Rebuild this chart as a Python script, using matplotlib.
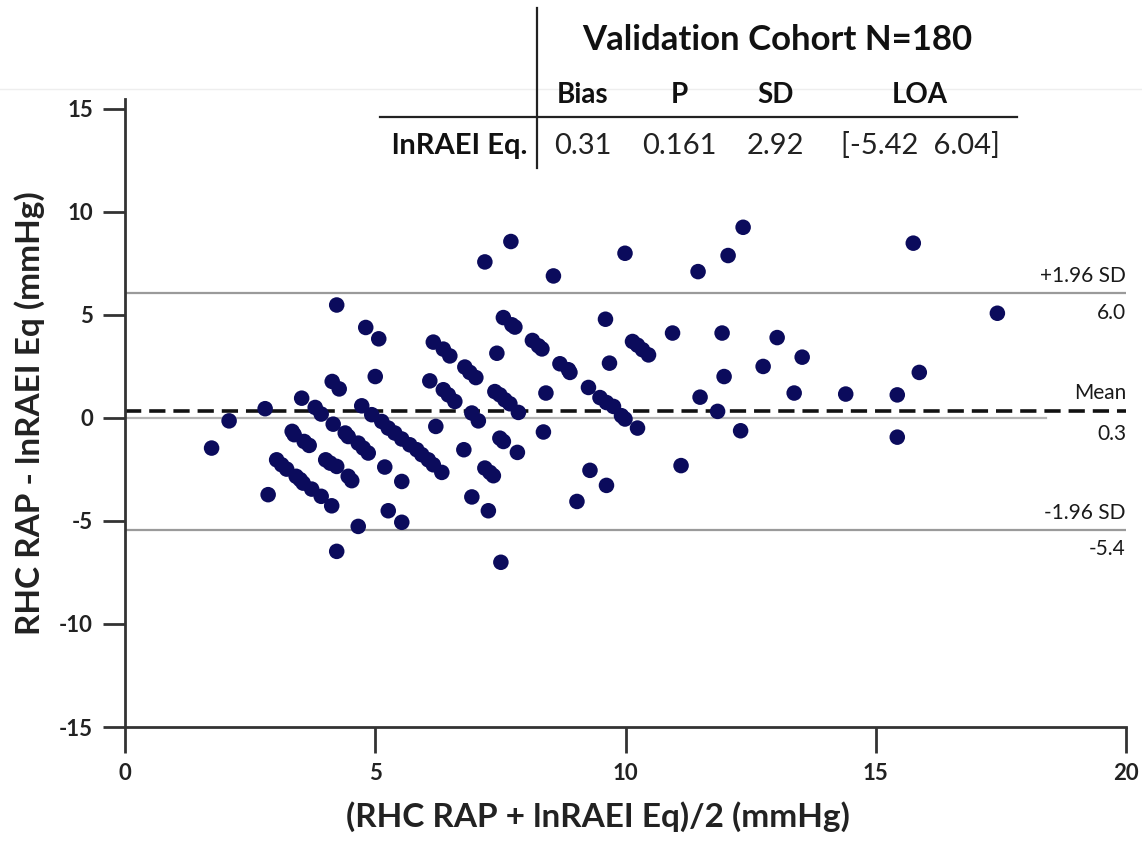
import numpy as np
import matplotlib.pyplot as plt
from matplotlib.lines import Line2D

plt.rcParams['font.family'] = ['Lato', 'DejaVu Sans']
plt.rcParams['axes.unicode_minus'] = False

# Bland-Altman values: mean of the two methods (x) and their difference (y)
avg_rap = [1.73, 2.08, 2.80, 2.86, 3.53, 3.80, 3.92, 4.14, 4.28, 4.23,
           3.34, 3.38, 3.58, 3.68, 4.16, 3.03, 3.13, 3.23, 3.42, 3.50,
           3.56, 3.73, 3.92, 4.13, 4.01, 4.10, 4.23, 4.23, 4.81, 5.07,
           5.00, 6.16, 6.36, 6.49, 6.09, 6.36, 6.46, 6.59, 6.79, 6.89,
           7.01, 7.43, 7.56, 7.73, 7.79, 7.39, 7.49, 7.59, 7.69, 7.86,
           6.93, 7.06, 6.21, 4.73, 4.93, 5.13, 5.26, 5.39, 5.53, 5.69,
           5.83, 5.93, 6.06, 6.16, 6.33, 4.40, 4.46, 4.66, 4.76, 4.86,
           4.46, 4.53, 5.19, 5.53, 4.66, 5.26, 5.53, 6.77, 7.19, 7.29,
           7.36, 6.93, 7.26, 7.49, 7.56, 7.51, 7.71, 8.56, 9.99, 8.14,
           8.26, 8.33, 8.69, 8.86, 8.89, 9.60, 10.14, 10.24, 10.34, 10.46,
           10.94, 9.68, 9.26, 9.49, 9.62, 9.76, 9.92, 9.99, 10.24, 8.41,
           8.36, 7.84, 9.29, 9.62, 9.03, 11.11, 11.45, 12.05, 12.35, 11.93,
           13.03, 13.53, 12.75, 11.97, 11.49, 13.37, 14.40, 11.84, 12.30, 15.75,
           17.43, 15.87, 15.43, 15.43, 7.19]
diff_rap = [-1.47, -0.15, 0.44, -3.73, 0.95, 0.50, 0.18, 1.76, 1.40, 5.47,
            -0.66, -0.82, -1.15, -1.34, -0.31, -2.04, -2.28, -2.49, -2.84, -3.00,
            -3.17, -3.46, -3.81, -4.27, -2.04, -2.20, -2.36, -6.48, 4.38, 3.83,
            2.00, 3.67, 3.33, 3.00, 1.79, 1.36, 1.11, 0.79, 2.46, 2.20,
            1.95, 3.13, 4.86, 4.51, 4.40, 1.27, 1.11, 0.87, 0.68, 0.26,
            0.23, -0.15, -0.42, 0.58, 0.15, -0.18, -0.50, -0.74, -1.03, -1.31,
            -1.55, -1.79, -2.04, -2.28, -2.65, -0.74, -0.91, -1.23, -1.47, -1.71,
            -2.84, -3.05, -2.39, -3.09, -5.27, -4.51, -5.07, -1.55, -2.44, -2.65,
            -2.81, -3.84, -4.51, -0.99, -1.15, -7.01, 8.55, 6.88, 7.98, 3.75,
            3.49, 3.34, 2.62, 2.33, 2.20, 4.78, 3.70, 3.52, 3.30, 3.05,
            4.11, 2.65, 1.47, 0.98, 0.74, 0.55, 0.10, -0.06, -0.50, 1.20,
            -0.69, -1.68, -2.55, -3.28, -4.06, -2.32, 7.09, 7.87, 9.24, 4.11,
            3.89, 2.94, 2.49, 2.00, 1.00, 1.20, 1.15, 0.31, -0.63, 8.47,
            5.07, 2.20, 1.11, -0.94, 7.56]

bias = 0.31
p_value = 0.161
sd_diff = 2.92
loa_low, loa_high = -5.42, 6.04

col_heads = ['Bias', 'P', 'SD', 'LOA']
row_label = 'lnRAEI Eq.'
row_vals = ['0.31', '0.161', '2.92', '[-5.42  6.04]']

W, H = 1142, 841
fig = plt.figure(figsize=(W / 100, H / 100), dpi=100)
ymax = 15.45
ax = fig.add_axes([125 / W, 1 - 727 / H, (1126 - 125) / W,
                   (727 - (418 - ymax * 20.63)) / H])

ax.set_xlim(0, 20)
ax.set_ylim(-15, ymax)

grey = '#9a9a9a'
ax.axhline(loa_high, color=grey, lw=1.6, zorder=1)
ax.axhline(loa_low, color=grey, lw=1.6, zorder=1)
ax.plot([0, 18.4], [0, 0], color='#b5b5b5', lw=1.6, zorder=1)
ax.axhline(bias, color='#111111', lw=2.6, ls=(0, (4.5, 2.2)), zorder=2)

ax.scatter(avg_rap, diff_rap, s=125, color='#0b0b5c', edgecolors='none', zorder=3)

# labels at the right end of the reference lines
lbl = dict(ha='right', fontsize=15, color='#1a1a1a')
ax.annotate('+1.96 SD', (20, loa_high), xytext=(0, 5), textcoords='offset points', va='bottom', **lbl)
ax.annotate(f'{loa_high:.1f}', (20, loa_high), xytext=(0, -7), textcoords='offset points', va='top', **lbl)
ax.annotate('Mean', (20, bias), xytext=(0, 6), textcoords='offset points', va='bottom', **lbl)
ax.annotate(f'{bias:.1f}', (20, bias), xytext=(0, -9), textcoords='offset points', va='top', **lbl)
ax.annotate('-1.96 SD', (20, loa_low), xytext=(0, 5), textcoords='offset points', va='bottom', **lbl)
ax.annotate(f'{loa_low:.1f}', (20, loa_low), xytext=(0, -7), textcoords='offset points', va='top', **lbl)

for s in ['top', 'right']:
    ax.spines[s].set_visible(False)
for s in ['left', 'bottom']:
    ax.spines[s].set_color('#333333')
    ax.spines[s].set_linewidth(2)

ax.set_xticks([0, 5, 10, 15, 20])
ax.set_yticks([-15, -10, -5, 0, 5, 10, 15])
ax.tick_params(axis='x', length=19, width=2, color='#333333', pad=7,
               labelsize=16, labelcolor='#222222')
ax.tick_params(axis='y', length=16, width=2, color='#333333', pad=7,
               labelsize=16, labelcolor='#222222')
for t in ax.get_xticklabels() + ax.get_yticklabels():
    t.set_fontweight('bold')

ax.set_xlabel('(RHC RAP + lnRAEI Eq)/2 (mmHg)', fontsize=24, fontweight='bold',
              color='#222222')
ax.xaxis.set_label_coords((598 - 125) / 1001, -0.118)
ax.set_ylabel('RHC RAP - lnRAEI Eq (mmHg)', fontsize=24, fontweight='bold',
              color='#222222', labelpad=10)

# summary table above the plot
def fx(px):
    return px / W

def fy(py):
    return 1 - py / H

fig.add_artist(Line2D([fx(0), fx(W)], [fy(89), fy(89)], color='#eeeeee', lw=1))
fig.add_artist(Line2D([fx(537), fx(537)], [fy(8), fy(168)], color='#222222', lw=1.6))
fig.add_artist(Line2D([fx(380), fx(1017)], [fy(117), fy(117)], color='#222222', lw=1.6))

fig.text(fx(777), fy(40), 'Validation Cohort N=180', ha='center', va='center',
         fontsize=25, fontweight='bold', color='#111111')
col_x = [583, 679, 775, 920]
for cx, head, val in zip(col_x, col_heads, row_vals):
    fig.text(fx(cx), fy(95), head, ha='center', va='center', fontsize=20,
             fontweight='bold', color='#111111')
    fig.text(fx(cx), fy(146), val, ha='center', va='center', fontsize=21,
             color='#222222')
fig.text(fx(527), fy(146), row_label, ha='right', va='center', fontsize=21,
         fontweight='bold', color='#111111')

fig.savefig('out.png', dpi=100, facecolor='white')
